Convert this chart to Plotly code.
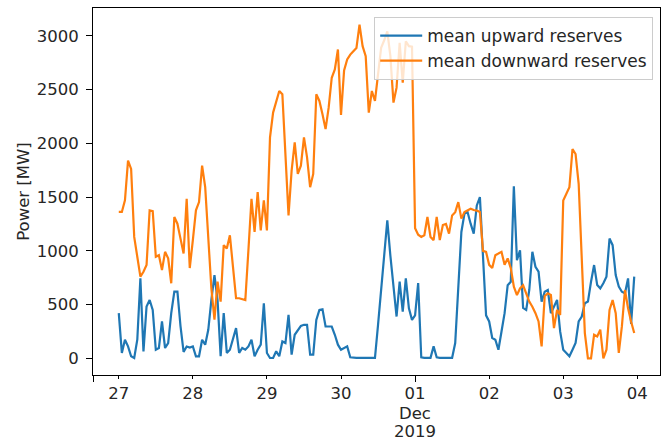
import pandas as pd
import plotly.graph_objects as go

# hourly data, 2019-11-27 00:00 .. 2019-12-03 23:00
start = "2019-11-27 00:00"
n_hours = 168

mean_upward = [
    # Nov 27
    420, 50, 173, 111, 19, 3, 173, 744, 65, 482, 543, 451, 80, 96, 343, 96, 142, 420, 620, 620, 300, 60, 110, 100,
    # Nov 28
    111, 19, 19, 173, 127, 266, 543, 775, 543, 19, 420, 50, 80, 173, 281, 50, 96, 80, 111, 173, 19, 80, 127, 512,
    # Nov 29
    50, 3, 3, 65, 19, 157, 142, 404, 34, 219, 265, 302, 312, 312, 34, 34, 358, 451, 457, 296, 296, 296, 219, 127,
    # Nov 30
    80, 96, 111, 10, 5, 5, 5, 5, 5, 5, 5, 5, 312, 652, 1022, 1284, 954, 652, 389, 713, 435, 744, 466, 358,
    # Dec 01
    400, 700, 10, 5, 5, 5, 111, 10, 5, 5, 5, 5, 5, 142, 713, 1176, 1346, 1361, 1253, 1161, 1423, 1500, 950, 400,
    # Dec 02
    343, 189, 173, 80, 250, 420, 680, 713, 1600, 914, 1006, 470, 451, 636, 991, 852, 806, 528, 620, 636, 420, 480, 543, 250,
    # Dec 03
    80, 50, 19, 80, 143, 343, 389, 512, 528, 713, 868, 682, 651, 698, 760, 1115, 1053, 775, 667, 620, 605, 744, 320, 760,
]

mean_downward = [
    # Nov 27
    1362, 1362, 1470, 1840, 1762, 1130, 945, 760, 806, 868, 1377, 1370, 945, 960, 821, 991, 930, 698, 1315, 1253, 1114, 975, 1485, 840,
    # Nov 28
    1100, 1377, 1454, 1794, 1593, 1160, 650, 360, 713, 528, 1053, 1022, 1145, 852, 559, 559, 550, 543, 1006, 1485, 1176, 1546, 1191, 1469,
    # Nov 29
    1191, 2056, 2287, 2395, 2488, 2457, 1840, 1330, 1747, 2009, 1716, 1793, 2056, 1871, 1593, 1716, 2457, 2395, 2272, 2133, 2333, 2611, 2688, 2874,
    # Nov 30
    2265, 2680, 2781, 2827, 2858, 2889, 3105, 2905, 2812, 2287, 2488, 2395, 2642, 2889, 2960, 3043, 2812, 2380, 2519, 2935, 2565, 2951, 2905, 2900,
    # Dec 01
    1210, 1150, 1130, 1145, 1315, 1130, 1100, 1315, 1100, 1240, 1250, 1160, 1330, 1360, 1454, 1300, 1361, 1380, 1392, 1380, 1375, 1361, 1000, 990,
    # Dec 02
    870, 840, 960, 975, 991, 870, 930, 840, 667, 589, 650, 680, 605, 528, 480, 420, 343, 111, 580, 605, 589, 281, 451, 404,
    # Dec 03
    1469, 1530, 1593, 1948, 1901, 1624, 852, 235, 0, 0, 220, 204, 266, 0, 80, 451, 543, 420, 50, 297, 636, 466, 340, 235,
]

series_names = ["mean upward reserves", "mean downward reserves"]
colors = ["#1f77b4", "#ff7f0e"]

x_tick_dates = ["2019-11-27", "2019-11-28", "2019-11-29", "2019-11-30",
                "2019-12-01", "2019-12-02", "2019-12-03", "2019-12-04"]
x_tick_labels = ["27", "28", "29", "30", "01", "02", "03", "04"]
x_major_date = "2019-12-01"
x_major_lines = ["Dec", "2019"]
y_tick_vals = [0, 500, 1000, 1500, 2000, 2500, 3000]
y_label = "Power [MW]"

times = pd.date_range(start, periods=n_hours, freq="h")

fig = go.Figure()
for name, vals, col in zip(series_names, [mean_upward, mean_downward], colors):
    fig.add_trace(go.Scatter(x=times, y=vals, mode="lines", name=name,
                             line=dict(color=col, width=2.2)))

# matplotlib-like 5% margins
span = times[-1] - times[0]
xr = [times[0] - span * 0.05, times[-1] + span * 0.05]
allv = mean_upward + mean_downward
ymin, ymax = min(allv), max(allv)
yr = [ymin - 0.05 * (ymax - ymin), ymax + 0.05 * (ymax - ymin)]

font = dict(family="DejaVu Sans", size=16.5, color="#262626")
legend_font = dict(family="DejaVu Sans", size=17, color="#262626")
fig.update_layout(
    width=665, height=441,
    margin=dict(l=93, r=5, t=8, b=66, autoexpand=False),
    paper_bgcolor="white", plot_bgcolor="white",
    font=font,
    showlegend=True,
    legend=dict(x=0.988, y=0.9755, xanchor="right", yanchor="top",
                bgcolor="rgba(255,255,255,0.8)", bordercolor="#cccccc", borderwidth=1,
                font=legend_font, tracegroupgap=0, itemwidth=42),
)
fig.update_xaxes(range=xr, tickvals=pd.to_datetime(x_tick_dates), ticktext=x_tick_labels,
                 showgrid=False, zeroline=False, showline=True, linecolor="black", linewidth=1,
                 mirror=True, ticks="outside", ticklen=3, tickcolor="black",
                 minor=dict(tickvals=[xr[0], pd.Timestamp(x_major_date)], ticks="outside",
                            ticklen=6, tickcolor="black", showgrid=False))
fig.update_yaxes(range=yr, tickvals=y_tick_vals, showgrid=False, zeroline=False,
                 showline=True, linecolor="black", linewidth=1, mirror=True,
                 ticks="outside", ticklen=6, tickcolor="black", ticklabelstandoff=4,
                 title=dict(text=y_label, font=font, standoff=2))

# second/third line of the major date label (pandas style)
for i, txt in enumerate(x_major_lines):
    fig.add_annotation(x=pd.Timestamp(x_major_date), xref="x", yref="paper",
                       y=(375 - (413 + 18.5 * i)) / 367, yanchor="middle",
                       text=txt, showarrow=False, font=font)

fig.write_html("out.html", config={"displayModeBar": False},
               post_script="document.body.style.margin='0';")
